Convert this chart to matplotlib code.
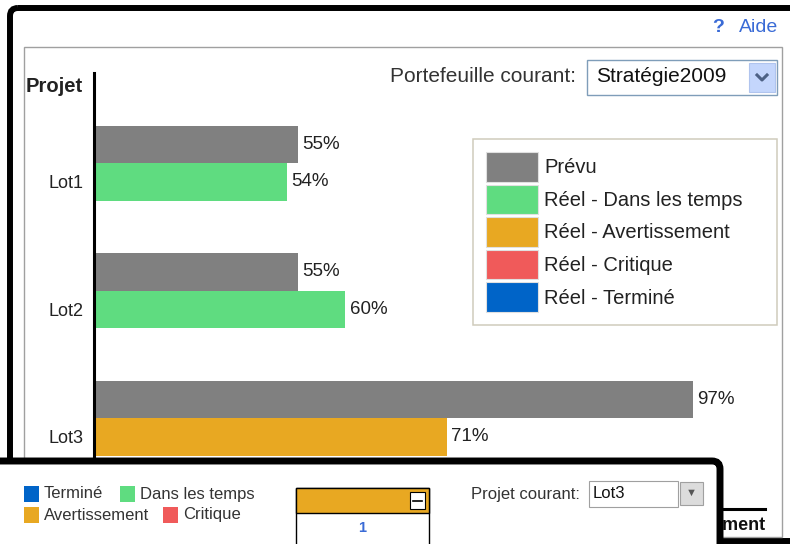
import matplotlib.pyplot as plt
from matplotlib.patches import Rectangle, FancyBboxPatch, Patch
import numpy as np

plt.rcParams['font.family'] = ['Liberation Sans', 'DejaVu Sans']

# data
projects = ["Lot1", "Lot2", "Lot3"]
planned_labels = ["55%", "55%", "97%"]
actual_labels = ["54%", "60%", "71%"]
# bar lengths as they are drawn in the screenshot (not scaled to the labels)
planned_len = [32.9, 32.9, 97.0]
actual_len = [31.1, 40.6, 57.1]
actual_status = ["Dans les temps", "Dans les temps", "Avertissement"]

status_colors = {
    "Prévu": "#808080",
    "Dans les temps": "#5fdc80",
    "Avertissement": "#e8a822",
    "Critique": "#f05a5a",
    "Terminé": "#0064c8",
}
legend_keys = ["Prévu", "Dans les temps", "Avertissement", "Critique", "Terminé"]
legend_labels = ["Prévu", "Réel - Dans les temps", "Réel - Avertissement",
                 "Réel - Critique", "Réel - Terminé"]

W, H = 790, 544
fig = plt.figure(figsize=(W / 100, H / 100), dpi=100)


def px_axes(z):
    a = fig.add_axes([0, 0, 1, 1], zorder=z)
    a.set_xlim(0, W)
    a.set_ylim(H, 0)
    a.axis("off")
    a.patch.set_alpha(0)
    return a


bg = px_axes(0)

# frames of the window
bg.add_patch(FancyBboxPatch((10, 8), 820, 533, boxstyle="round,pad=0,rounding_size=8",
                            fill=False, edgecolor="black", lw=4.3))
bg.add_patch(Rectangle((24, 47), 758, 490, fill=False, edgecolor="#a0a0a0", lw=1.0))

bg.text(718, 28, "?", ha="center", va="center", fontsize=14, fontweight="bold", color="#3a6bd6")
bg.text(778, 28, "Aide", ha="right", va="center", fontsize=14, color="#3a6bd6")
bg.text(26, 87, "Projet", ha="left", va="center", fontsize=14.5, fontweight="bold", color="#222222")

# portfolio selector
bg.text(576, 77, "Portefeuille courant:", ha="right", va="center", fontsize=15, color="#333333")
bg.add_patch(Rectangle((587, 60), 190, 35, facecolor="white", edgecolor="#7f9db9", lw=1.0))
bg.text(596, 77, "Stratégie2009", ha="left", va="center", fontsize=15, color="#111111")
bg.add_patch(Rectangle((749, 63), 26, 29, facecolor="#c4d6fc", edgecolor="#b0c4ee", lw=0.8))
bg.plot([757, 762, 767], [75, 80, 75], color="#4d6185", lw=2.2)

# bar chart
ax = fig.add_axes([93.5 / W, 0, (W - 93.5) / W, (H - 73) / H], zorder=1)
ax.patch.set_alpha(0)
pitch = 127.5
ax.set_ylim((H - 163) / pitch, (73 - 163) / pitch)
ax.set_xlim(-1.5 / 6.165, (W - 95) / 6.165)

y = np.arange(len(projects))
h = 37.5 / pitch
ax.barh(y - h / 2, planned_len, height=h, color=status_colors["Prévu"])
ax.barh(y + h / 2, actual_len, height=h, color=[status_colors[s] for s in actual_status])

for i in range(len(projects)):
    ax.text(planned_len[i] + 0.7, y[i] - h / 2, planned_labels[i], va="center",
            fontsize=13.5, color="#222222")
    ax.text(actual_len[i] + 0.7, y[i] + h / 2, actual_labels[i], va="center",
            fontsize=13.5, color="#222222")

# project names sit next to the actual bar
ax.set_yticks(y + h / 2)
ax.set_yticklabels(projects, fontsize=13, color="#222222")
ax.tick_params(axis="y", length=0, pad=7.5)
ax.set_xticks([])
for s in ["top", "right", "bottom"]:
    ax.spines[s].set_visible(False)
ax.spines["left"].set_linewidth(2.2)
ax.spines["left"].set_color("black")

fg = px_axes(3)

# legend of the chart
fs = 14.5
handles = [Patch(facecolor=status_colors[k], edgecolor="#e0e0e0", lw=0.8) for k in legend_keys]
leg = fg.legend(handles, legend_labels, loc="upper left",
                bbox_to_anchor=(473 / W, 1 - 139 / H, 304 / W, 0.0001),
                bbox_transform=fig.transFigure, mode="expand", borderaxespad=0,
                fontsize=fs, handlelength=37.4 / fs, handleheight=1.9,
                labelspacing=1.98 / fs, borderpad=9.4 / fs, handletextpad=4.3 / fs,
                fancybox=False, framealpha=1)
leg.get_frame().set_edgecolor("#d0ccbc")
leg.get_frame().set_linewidth(1.1)
for t in leg.get_texts():
    t.set_color("#222222")

# second window behind the bottom panel
fg.plot([723, 765], [509, 509], color="black", lw=2.2, zorder=4)
fg.text(765, 525, "ement", ha="right", va="center", fontsize=13, fontweight="bold",
        color="#111111", zorder=4)

# bottom panel
fg.add_patch(FancyBboxPatch((-40, 461), 760, 160, boxstyle="round,pad=0,rounding_size=8",
                            facecolor="white", edgecolor="black", lw=5.0, zorder=5))

small = [("Terminé", 24, 486), ("Dans les temps", 120, 486),
         ("Avertissement", 24, 507), ("Critique", 163, 507)]
for name, sx, sy in small:
    fg.add_patch(Rectangle((sx, sy), 15, 16, facecolor=status_colors[name],
                           edgecolor="none", zorder=6))
    fg.text(sx + 20, sy + 8, name, ha="left", va="center", fontsize=12, color="#333333", zorder=6)

# small project card
fg.add_patch(Rectangle((296, 488), 133, 80, facecolor="white", edgecolor="black", lw=1.0, zorder=6))
fg.add_patch(Rectangle((296, 488), 133, 25, facecolor=status_colors["Avertissement"],
                       edgecolor="black", lw=1.0, zorder=6))
fg.add_patch(Rectangle((410, 492), 15, 17, facecolor="white", edgecolor="black", lw=0.8, zorder=7))
fg.plot([413, 422], [501, 501], color="black", lw=1.2, zorder=8)
fg.text(362, 528, "1", ha="center", va="center", fontsize=10.5, fontweight="bold",
        color="#3a6bd6", zorder=7)

# project selector
fg.text(580, 494, "Projet courant:", ha="right", va="center", fontsize=12, color="#333333", zorder=6)
fg.add_patch(Rectangle((589, 481), 89, 26, facecolor="white", edgecolor="#a0a0a0", lw=0.8, zorder=6))
fg.text(593, 494, "Lot3", ha="left", va="center", fontsize=12, color="#111111", zorder=7)
fg.add_patch(Rectangle((680, 482), 23, 23, facecolor="#dcdcdc", edgecolor="#a0a0a0", lw=0.8, zorder=6))
fg.text(691.5, 493, "▼", ha="center", va="center", fontsize=8, color="#555555", zorder=7)

fig.savefig("out.png", dpi=100)
